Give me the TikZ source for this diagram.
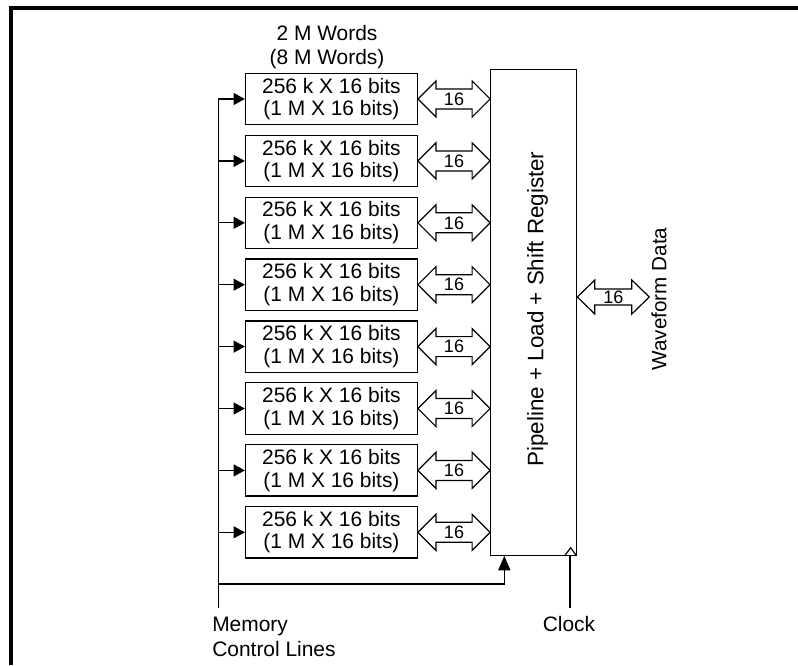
\documentclass[tikz,border=0pt]{standalone}
\usepackage{fontspec}
\setmainfont{Liberation Sans}
\usetikzlibrary{arrows.meta,calc}
\begin{document}
\begin{tikzpicture}[x=0.75pt,y=-0.75pt,
  line width=0.9pt,
  membox/.style={draw, minimum width=128.85pt, minimum height=38.5pt, inner sep=0pt, align=center, font=\fontsize{15.7}{16.9}\selectfont},
  regbox/.style={draw, minimum width=64.5pt, minimum height=364.5pt, inner sep=0pt},
  lbl/.style={font=\fontsize{15.5}{18}\selectfont, inner sep=0pt},
  buslbl/.style={font=\fontsize{13.5}{15}\selectfont, inner sep=0pt},
  ctrlarrow/.style={-{Triangle[length=8.5pt,width=9pt]}},
  regarrow/.style={-{Triangle[length=11pt,width=9.2pt]}},
  bus/.style={draw, fill=white, line width=0.9pt}
]
\useasboundingbox (0,0) rectangle (798,665);

% frame
\draw[line width=3pt] (798,8) -- (10.5,8) -- (10.5,665);

% register
\node[regbox] (reg) at (533.7,312.2) {};
\node[lbl, rotate=90, font=\fontsize{16.8}{18}\selectfont] (regtxt) at (537.5,309) {Pipeline + Load + Shift Register};

% top label
\node[lbl, align=center, font=\fontsize{15.7}{17.5}\selectfont] (words) at (327,47) {2 M Words\\(8 M Words)};

% memory boxes and buses
\foreach \i in {1,...,8} {
  \pgfmathsetmacro\yy{99+61.9*(\i-1)}
  \node[membox] (m\i) at (331.4,\yy) {256 k X 16 bits\\(1 M X 16 bits)};
  \draw[bus] (m\i.east) -- ++(18,-18) -- ++(0,8) -- ($(reg.west |- m\i.east)+(-18,-10)$) -- ++(0,-8)
     -- (reg.west |- m\i.east) -- ++(-18,18) -- ++(0,-8) -- ($(m\i.east)+(18,10)$) -- ++(0,8) -- cycle;
  \node[buslbl] (b\i) at ($(m\i.east)!0.5!(reg.west |- m\i.east)$) {16};
}

% waveform bus
\coordinate (wf) at (649.3,297);
\draw[bus] (reg.east |- wf) -- ++(17.5,-17) -- ++(0,9) -- ($(wf)+(-17.5,-8)$) -- ++(0,-9)
   -- (wf) -- ++(-17.5,17) -- ++(0,-9) -- ($(reg.east |- wf)+(17.5,8)$) -- ++(0,9) -- cycle;
\node[buslbl] (wb) at ($(reg.east |- wf)!0.5!(wf)$) {16};
\node[lbl, rotate=90] (wftxt) at (659,299) {Waveform Data};

% memory control lines
\coordinate (mbot) at (218.3,607.7);
\draw[ctrlarrow] (mbot) -- (mbot |- m1.west) -- (m1.west);
\foreach \i in {2,...,8} {
  \draw[ctrlarrow] (mbot |- m\i.west) -- (m\i.west);
}
\coordinate (rin) at (504.3,584);
\draw[regarrow] (mbot |- rin) -- (rin) -- (rin |- reg.south);
\node[lbl, align=left, anchor=north west, font=\fontsize{15.7}{18.75}\selectfont] (mcl) at (211.7,616) {Memory\\Control Lines};

% clock
\coordinate (clkbot) at (570,607.7);
\draw (clkbot) -- (clkbot |- reg.south);
\draw ($(reg.south east)+(-12.7,0)$) -- ++(6,-8) -- ++(6,8);
\node[lbl, anchor=base, font=\fontsize{15.7}{18}\selectfont] (clk) at (569,631.7) {Clock};
\end{tikzpicture}
\end{document}
